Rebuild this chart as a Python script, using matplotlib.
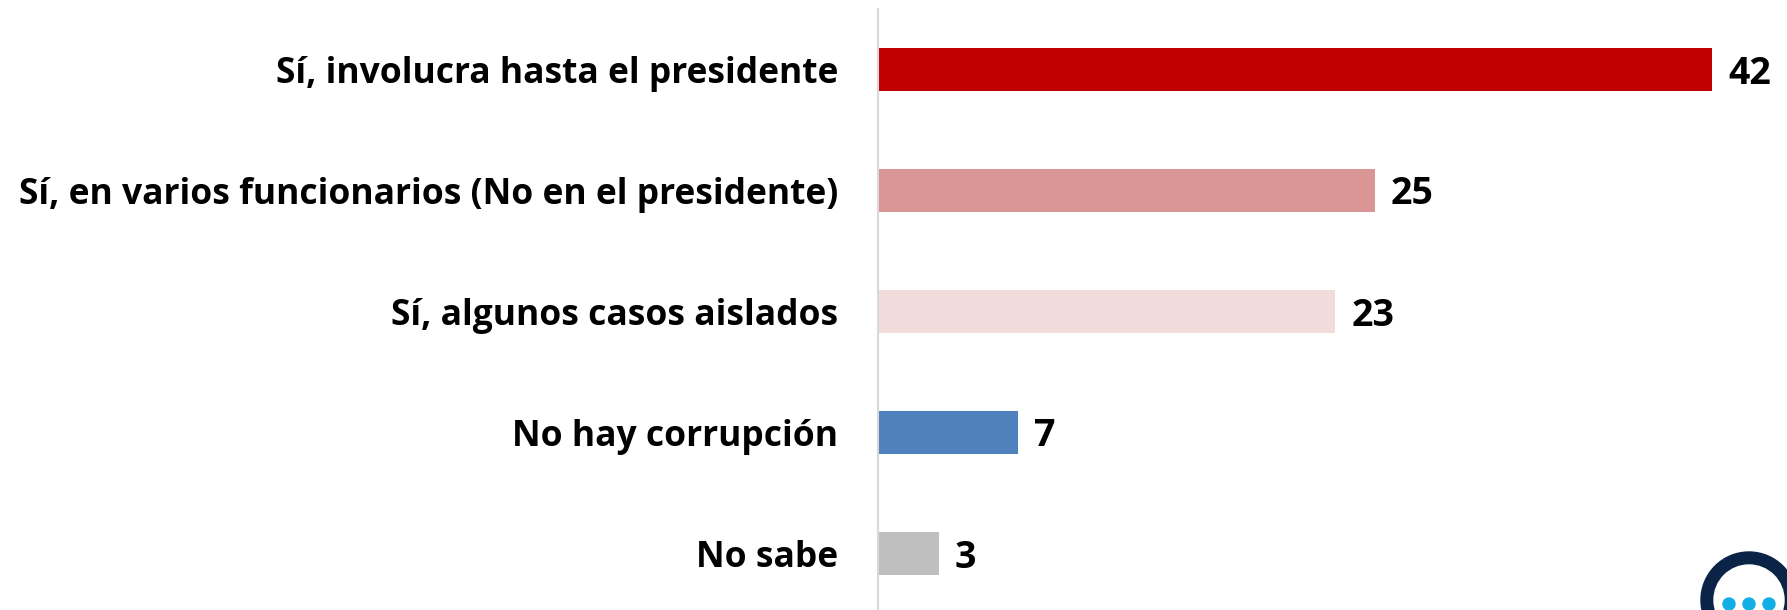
import matplotlib
matplotlib.use("Agg")
import matplotlib.pyplot as plt
from matplotlib.patches import Circle

categories = ["Sí, involucra hasta el presidente",
              "Sí, en varios funcionarios (No en el presidente)",
              "Sí, algunos casos aislados",
              "No hay corrupción",
              "No sabe"]
values = [42, 25, 23, 7, 3]
colors = ["#C00000", "#D99694", "#F2DCDB", "#4F81BD", "#BFBFBF"]

W, H = 1787, 610
plt.rcParams['font.family'] = ['Open Sans', 'DejaVu Sans']
fig = plt.figure(figsize=(W/100, H/100), dpi=100)
x0, x1 = 879, 1712
ax = fig.add_axes([x0/W, 0, (x1-x0)/W, 1-9/H])
for s in ['top', 'right', 'bottom']:
    ax.spines[s].set_visible(False)
ax.spines['left'].set_color('#D9D9D9')
ax.spines['left'].set_linewidth(1.5)
ax.spines['left'].set_position(('outward', 0.7))
ax.set_xlim(0, 42)
pitch = 121.0
y_first = 69.5 - 9
ax.set_ylim((601-y_first)/pitch, -y_first/pitch)
ax.barh(range(5), values, height=43/pitch, color=colors)
for i, v in enumerate(values):
    ax.annotate(str(v), (v, i), xytext=(16, -4), textcoords='offset pixels',
                va='center', ha='left', fontsize=27, fontweight='bold', color='black', annotation_clip=False)
ax.set_yticks(range(5), categories, fontsize=25.5, fontweight='bold')
ax.tick_params(axis='y', length=0, pad=28.5)
ax.set_xticks([])

# logo in the corner
lg = fig.add_axes([0, 0, 1, 1], facecolor='none')
lg.set_xlim(0, W); lg.set_ylim(H, 0); lg.axis('off')
lg.add_patch(Circle((1749, 600), 48, color='#0A2347'))
lg.add_patch(Circle((1749, 600), 35, color='#FFFFFF'))
for dx in (-20, 0, 20):
    lg.add_patch(Circle((1749+dx, 604), 6, color='#12AEE6'))
fig.savefig("out.png", dpi=100)
